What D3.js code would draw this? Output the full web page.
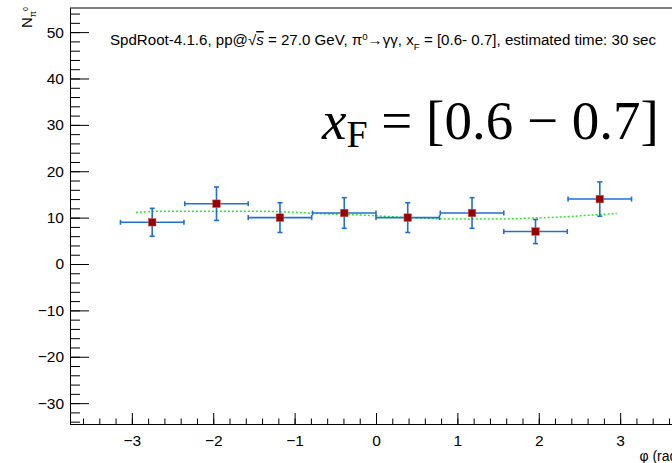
<!DOCTYPE html>
<html>
<head>
<meta charset="utf-8">
<script src="https://cdn.jsdelivr.net/npm/d3@7"></script>
<style>
    body { margin: 0; background: #fff; }
    svg { display: block; font-family: "Liberation Sans", Helvetica, Arial, sans-serif; }
</style>
</head>
<body>
<div id="chart"></div>
<script>
// bin centers in phi (rad) and the counts
const phiCenters = [-2.75, -1.96, -1.18, -0.39, 0.39, 1.18, 1.96, 2.75];
const phiHalfWidth = [0.39, 0.39, 0.39, 0.39, 0.39, 0.39, 0.39, 0.39];
const counts = [9, 13, 10, 11, 10, 11, 7, 14];
const countErrors = [3.0, 3.6, 3.2, 3.3, 3.2, 3.3, 2.6, 3.7];

// fitted curve (green dotted), sampled by eye
const fitPhi = [-2.95, -2.7, -2.0, -1.34, -1.0, -0.8, -0.4, 0.0, 0.3, 0.6, 1.0, 1.5, 1.9, 2.3, 2.6, 2.96];
const fitVal = [11.1, 11.35, 11.4, 11.35, 11.15, 10.95, 10.7, 10.4, 10.1, 9.85, 9.7, 9.7, 9.9, 10.15, 10.5, 10.9];

const xMajorTicks = [-3, -2, -1, 0, 1, 2, 3];
const yMajorTicks = [-30, -20, -10, 0, 10, 20, 30, 40, 50];

const width = 672, height = 463;
const frame = {left: 70, right: 682, top: 8, bottom: 424};

const svg = d3.select('#chart').append('svg')
    .attr('width', width)
    .attr('height', height);

svg.append('rect')
    .attr('width', width)
    .attr('height', height)
    .attr('fill', '#fff');

const x = d3.scaleLinear().domain([-3.76, 3.76]).range([frame.left, frame.right]);
const y = d3.scaleLinear().domain([-34.5, 55.2]).range([frame.bottom, frame.top]);

// frame top line
svg.append('line')
    .attr('x1', frame.left).attr('x2', frame.right)
    .attr('y1', frame.top).attr('y2', frame.top)
    .attr('stroke', '#000');

// minor ticks first, majors on top
svg.append('g')
    .attr('transform', `translate(0,${frame.bottom})`)
    .call(d3.axisBottom(x).tickValues(d3.range(-3.6, 3.8, 0.2)).tickSizeInner(-5.5).tickSizeOuter(0).tickFormat(''));
svg.append('g')
    .attr('transform', `translate(${frame.left},0)`)
    .call(d3.axisLeft(y).tickValues(d3.range(-34, 56, 2)).tickSizeInner(-10).tickSizeOuter(0).tickFormat(''));

const minus = d => d3.format('d')(d).replace('-', '\u2212');
svg.append('g')
    .attr('transform', `translate(0,${frame.bottom})`)
    .call(d3.axisBottom(x).tickValues(xMajorTicks).tickSizeInner(-11).tickSizeOuter(0).tickPadding(11).tickFormat(minus));
svg.append('g')
    .attr('transform', `translate(${frame.left},0)`)
    .call(d3.axisLeft(y).tickValues(yMajorTicks).tickSizeInner(-19).tickSizeOuter(0).tickPadding(6).tickFormat(minus));

svg.selectAll('.tick line, .domain').attr('stroke', '#000');
svg.selectAll('.tick text')
    .attr('fill', '#000')
    .style('font-size', '15.5px')
    .style('font-family', '"Liberation Sans", Helvetica, Arial, sans-serif');

// axis titles
svg.append('text')
    .attr('x', frame.right)
    .attr('y', 461)
    .attr('text-anchor', 'end')
    .style('font-size', '14px')
    .text('\u03c6 (rad)');

const yTitle = svg.append('text')
    .attr('transform', 'translate(32,28) rotate(-90)')
    .style('font-size', '15px');
yTitle.append('tspan').text('N');
yTitle.append('tspan').attr('dy', 4).style('font-size', '9px').text('\u03c0');
yTitle.append('tspan').attr('dy', -8).style('font-size', '7px').text('0');

// header line
const header = svg.append('text')
    .attr('x', 110)
    .attr('y', 45)
    .attr('textLength', 546)
    .attr('lengthAdjust', 'spacingAndGlyphs')
    .style('font-size', '14px');
header.append('tspan').text('SpdRoot-4.1.6, pp@');
header.append('tspan').text('\u221a');
header.append('tspan').style('font-style', 'italic').style('text-decoration', 'overline').text('s');
header.append('tspan').text(' = 27.0 GeV, \u03c0');
header.append('tspan').attr('dy', -5).style('font-size', '9px').text('0');
header.append('tspan').attr('dy', 5).text('\u2192\u03b3\u03b3, x');
header.append('tspan').attr('dy', 5).style('font-size', '9px').text('F');
header.append('tspan').attr('dy', -5).text(' = [0.6- 0.7], estimated time: 30 sec');

// big x_F label
const big = svg.append('text')
    .attr('x', 322)
    .attr('y', 139)
    .style('font-family', '"Liberation Serif", "DejaVu Serif", serif')
    .style('font-size', '55px');
big.append('tspan').style('font-style', 'italic').text('x');
big.append('tspan').attr('dy', 8).style('font-size', '38px').text('F');
big.append('tspan').attr('dy', -8).text(' = [0.6 \u2212 0.7]');

// fit curve
svg.append('path')
    .datum(d3.zip(fitPhi, fitVal))
    .attr('fill', 'none')
    .attr('stroke', '#22ee22')
    .attr('stroke-width', 1.5)
    .attr('stroke-dasharray', '2,2')
    .attr('d', d3.line().x(d => x(d[0])).y(d => y(d[1])).curve(d3.curveMonotoneX));

// error bars
const pts = d3.range(counts.length).map(i => ({
    phi: phiCenters[i], dphi: phiHalfWidth[i], n: counts[i], dn: countErrors[i]
}));
const bars = svg.append('g')
    .attr('stroke', '#2070d0')
    .attr('stroke-width', 1.6);

bars.selectAll('line.xerr')
    .data(pts)
    .join('line')
    .classed('xerr', true)
    .attr('x1', d => x(d.phi - d.dphi)).attr('x2', d => x(d.phi + d.dphi))
    .attr('y1', d => y(d.n)).attr('y2', d => y(d.n));
bars.selectAll('line.yerr')
    .data(pts)
    .join('line')
    .classed('yerr', true)
    .attr('x1', d => x(d.phi)).attr('x2', d => x(d.phi))
    .attr('y1', d => y(d.n - d.dn)).attr('y2', d => y(d.n + d.dn));

// end caps
const caps = [];
pts.forEach(d => {
    caps.push({x1: x(d.phi - d.dphi), x2: x(d.phi - d.dphi), y1: y(d.n) - 2.5, y2: y(d.n) + 2.5});
    caps.push({x1: x(d.phi + d.dphi), x2: x(d.phi + d.dphi), y1: y(d.n) - 2.5, y2: y(d.n) + 2.5});
    caps.push({x1: x(d.phi) - 2.5, x2: x(d.phi) + 2.5, y1: y(d.n + d.dn), y2: y(d.n + d.dn)});
    caps.push({x1: x(d.phi) - 2.5, x2: x(d.phi) + 2.5, y1: y(d.n - d.dn), y2: y(d.n - d.dn)});
});
bars.selectAll('line.cap')
    .data(caps)
    .join('line')
    .classed('cap', true)
    .attr('x1', d => d.x1).attr('x2', d => d.x2)
    .attr('y1', d => d.y1).attr('y2', d => d.y2);

// square markers
svg.append('g').selectAll('rect')
    .data(pts)
    .join('rect')
    .attr('x', d => x(d.phi) - 3.8)
    .attr('y', d => y(d.n) - 3.8)
    .attr('width', 7.6)
    .attr('height', 7.6)
    .attr('fill', '#990000')
    .attr('stroke', '#d06060')
    .attr('stroke-width', 0.5);
</script>
</body>
</html>
